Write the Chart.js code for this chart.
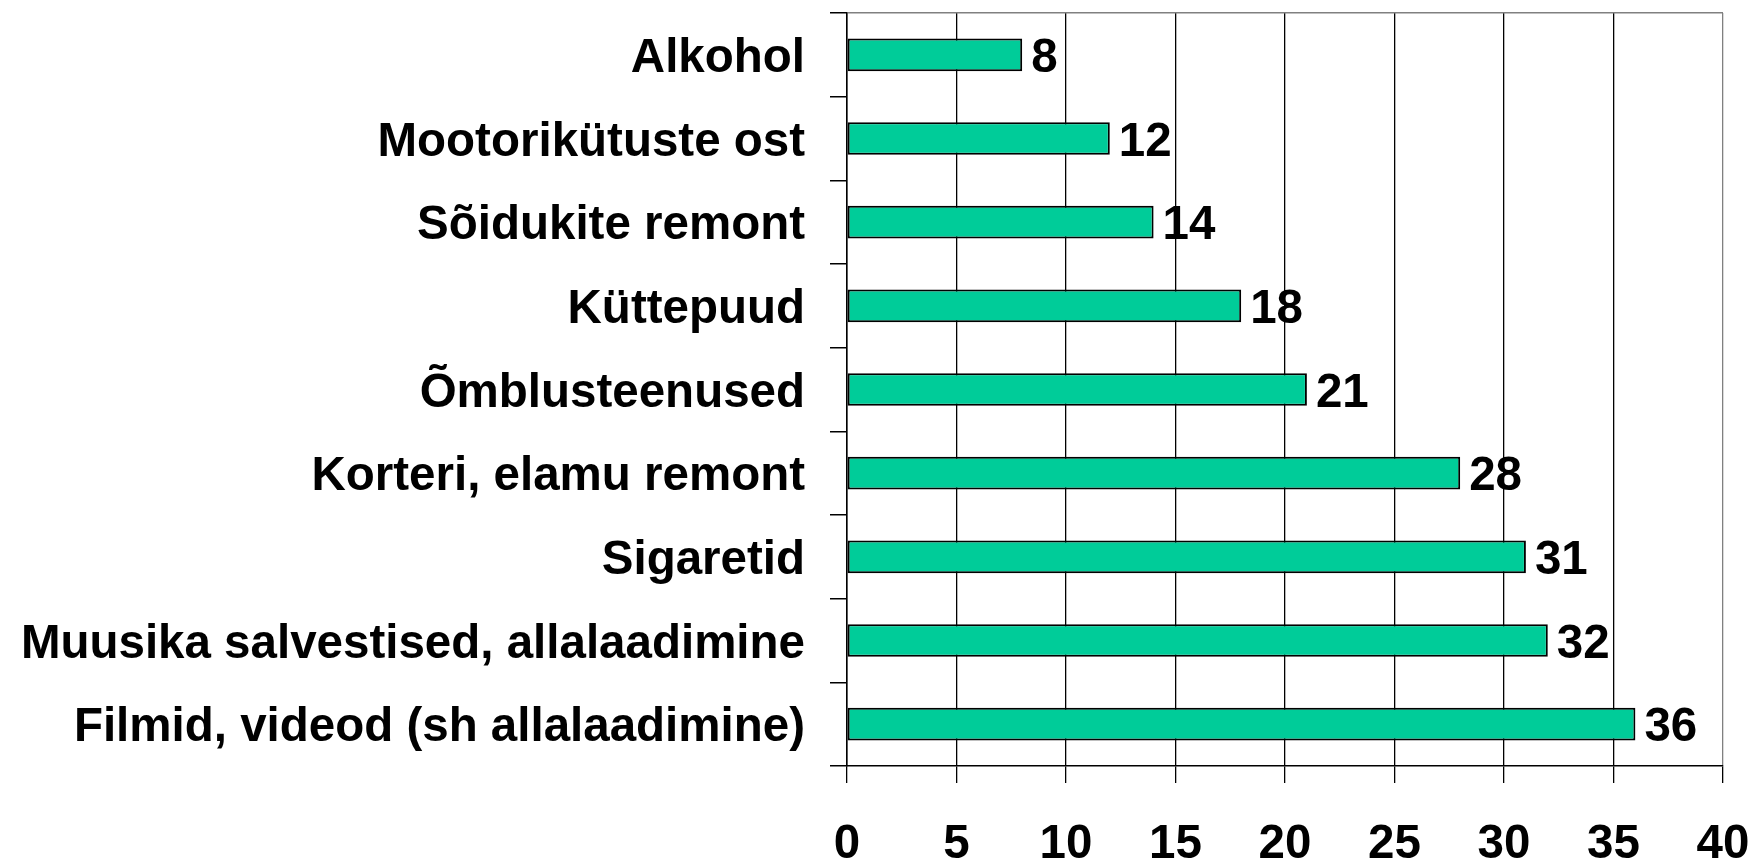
<!DOCTYPE html>
<html>
<head>
<meta charset="utf-8">
<script src="https://cdn.jsdelivr.net/npm/chart.js@4"></script>
<style>
html,body{margin:0;padding:0;background:#fff;}
#wrap{width:1754px;height:862px;position:relative;}
</style>
</head>
<body>
<div id="wrap"><canvas id="c" width="1754" height="862"></canvas></div>
<script>
const categories = [
  "Alkohol",
  "Mootorikütuste ost",
  "Sõidukite remont",
  "Küttepuud",
  "Õmblusteenused",
  "Korteri, elamu remont",
  "Sigaretid",
  "Muusika salvestised, allalaadimine",
  "Filmid, videod (sh allalaadimine)"
];
const values = [8, 12, 14, 18, 21, 28, 31, 32, 36];
const xTicks = [0, 5, 10, 15, 20, 25, 30, 35, 40];

const FONT = "'Liberation Sans', Arial, sans-serif";
const FSIZE = 47.5;

const valueLabels = {
  id: 'valueLabels',
  afterDatasetsDraw(chart) {
    const ctx = chart.ctx;
    const meta = chart.getDatasetMeta(0);
    ctx.save();
    ctx.font = "bold " + FSIZE + "px " + FONT;
    ctx.fillStyle = '#000';
    ctx.textAlign = 'left';
    ctx.textBaseline = 'middle';
    meta.data.forEach((bar, i) => {
      ctx.fillText(String(values[i]), bar.x + 9, bar.y + 4);
    });
    ctx.restore();
  }
};

new Chart(document.getElementById('c'), {
  type: 'bar',
  data: {
    labels: categories,
    datasets: [{
      data: values,
      backgroundColor: '#00CC99',
      borderColor: '#000',
      borderWidth: 2,
      borderSkipped: false,
      barPercentage: 0.39,
      categoryPercentage: 1.0
    }]
  },
  options: {
    indexAxis: 'y',
    responsive: false,
    animation: false,
    devicePixelRatio: 1,
    layout: { padding: { top: 13, right: 31, left: 0, bottom: 0 } },
    plugins: { legend: { display: false }, tooltip: { enabled: false } },
    scales: {
      x: {
        min: 0, max: 40,
        afterBuildTicks(scale) { scale.ticks = xTicks.map(v => ({ value: v })); },
        afterFit(scale) {
          scale.height = 96;
          scale.paddingLeft = 0; scale.paddingRight = 0;
          scale.paddingTop = 0; scale.paddingBottom = 0;
        },
        border: { display: true, color: '#000', width: 1.5 },
        grid: {
          color: ctx => (ctx.tick && ctx.tick.value === 40) ? '#808080' : '#000',
          tickColor: '#000',
          lineWidth: 1.3,
          tickLength: 17,
          drawOnChartArea: true
        },
        ticks: {
          color: '#000',
          font: { family: FONT, size: FSIZE, weight: 'bold' },
          padding: 33,
          maxRotation: 0,
          autoSkip: false
        }
      },
      y: {
        afterFit(scale) {
          scale.width = 847;
          scale.paddingLeft = 0; scale.paddingRight = 0;
          scale.paddingTop = 0; scale.paddingBottom = 0;
        },
        border: { display: true, color: '#000', width: 1.5 },
        grid: {
          offset: true,
          drawOnChartArea: true,
          color: ctx => ctx.index === 0 ? '#808080' : 'rgba(0,0,0,0)',
          tickColor: '#000',
          lineWidth: 1.5,
          tickLength: 17
        },
        ticks: {
          color: '#000',
          font: { family: FONT, size: FSIZE, weight: 'bold' },
          padding: 25,
          labelOffset: 4,
          autoSkip: false
        }
      }
    }
  },
  plugins: [valueLabels]
});
</script>
</body>
</html>
